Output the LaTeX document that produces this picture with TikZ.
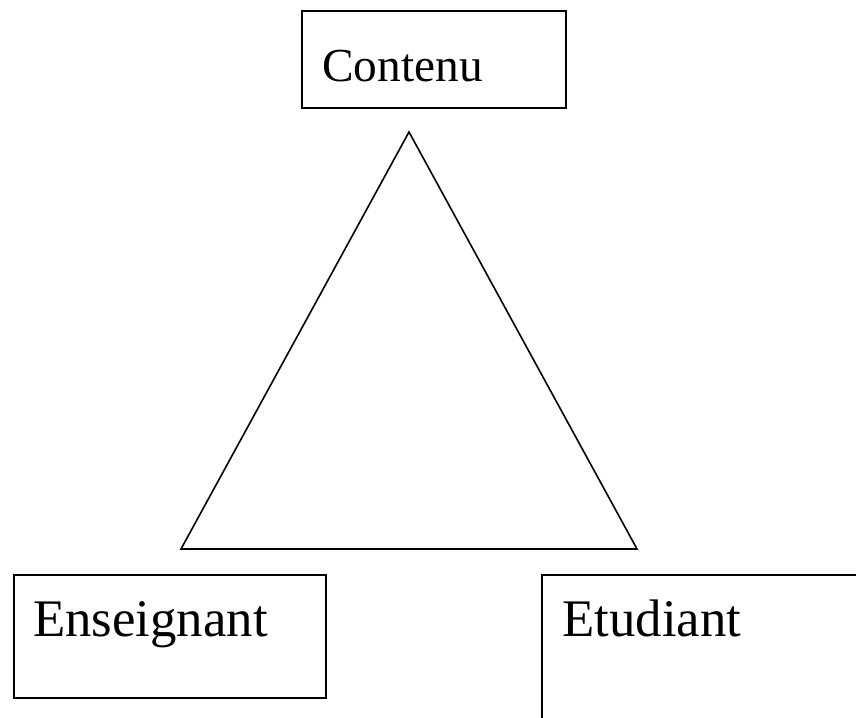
\documentclass[tikz,border=0pt]{standalone}
\usepackage{fontspec}
\setmainfont{Liberation Serif}

\tikzset{
  box/.style={draw, line width=1.2pt, rectangle, anchor=north west, inner sep=0pt},
  word/.style={anchor=base west, inner sep=0pt}
}

\begin{document}
\begin{tikzpicture}[x=0.75pt, y=-0.75pt]
\useasboundingbox (0,0) rectangle (856,717);
\clip (0,0) rectangle (856,717);

% the three poles
\node[box, minimum width=198pt, minimum height=72.75pt] (contenu) at (301,10) {};
\node[word, font=\fontsize{35.5}{40}\selectfont] (contenutxt) at (322,82) {Contenu};

\node[box, minimum width=234pt, minimum height=92.25pt] (enseignant) at (13,574) {};
\node[word, font=\fontsize{39.6}{44}\selectfont] (enseignanttxt) at (33,636) {Enseignant};

\node[box, minimum width=260pt, minimum height=130pt] (etudiant) at (541,574) {};
\node[word, font=\fontsize{39.6}{44}\selectfont] (etudianttxt) at (562,636) {Etudiant};

% triangle
\coordinate (top) at (409,132);
\coordinate (left) at (181,549);
\coordinate (right) at (637,549);
\draw[line width=1.2pt, line join=miter] (top) -- (left) -- (right) -- cycle;
\end{tikzpicture}
\end{document}
